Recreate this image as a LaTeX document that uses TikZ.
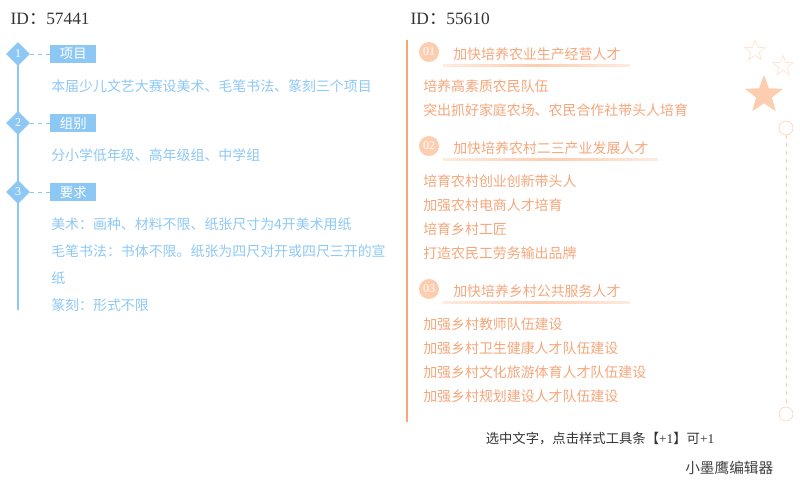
\documentclass[tikz,border=0pt]{standalone}
\usepackage{fontspec}
\setmainfont{Liberation Serif}
\newfontfamily\cjk{Noto Sans CJK SC}
\usetikzlibrary{shapes.geometric}
\definecolor{bl}{HTML}{8DC8F5}
\definecolor{org}{HTML}{F5A67A}
\definecolor{lorg}{HTML}{FDCDB0}
\begin{document}
\begin{tikzpicture}[x=0.75pt,y=-0.75pt,
 btxt/.style={anchor=west,text=bl,font=\cjk\fontsize{10.45}{12}\selectfont,inner sep=0},
 otxt/.style={anchor=west,text=org,font=\cjk\fontsize{10.45}{12}\selectfont,inner sep=0},
 dia/.style={diamond,fill=bl,minimum size=18,inner sep=0,text=white,font=\fontsize{9}{10}\selectfont},
 lbl/.style={fill=bl,text=white,minimum width=34.5pt,minimum height=13.5pt,inner sep=0,font=\cjk\fontsize{10}{12}\selectfont,anchor=west},
 num/.style={circle,fill=lorg,minimum size=15pt,inner sep=0,text=white,font=\fontsize{9}{10}\selectfont},
 ttl/.style={anchor=west,text=org,font=\cjk\fontsize{10.45}{12}\selectfont,inner sep=0}]
\useasboundingbox (0,0) rectangle (800,488);
\node[anchor=west,font=\fontsize{13}{15}\selectfont,text=black!80] (id1) at (6,19) {ID{\cjk ：}57441};
\node[anchor=west,font=\fontsize{13}{15}\selectfont,text=black!80] (id2) at (406,19) {ID{\cjk ：}55610};
% left
\draw[bl,line width=1pt] (18,45) -- (18,310);
\foreach \y/\n/\t in {54/1/项目,123/2/组别,192/3/要求}{
 \node[dia] (d\n) at (18,\y) {\n};
 \node[lbl] (l\n) at (50,\y) {\t};
 \draw[bl,dashed] (d\n.east) -- (l\n.west);
}
\node[btxt] (t1) at (51,86) {本届少儿文艺大赛设美术、毛笔书法、篆刻三个项目};
\node[btxt] (t2) at (51,155) {分小学低年级、高年级组、中学组};
\node[btxt] (t3) at (51,224) {美术：画种、材料不限、纸张尺寸为4开美术用纸};
\node[btxt] (t4) at (51,251) {毛笔书法：书体不限。纸张为四尺对开或四尺三开的宣};
\node[btxt] (t5) at (51,278) {纸};
\node[btxt] (t6) at (51,305) {篆刻：形式不限};
% right
\draw[org,line width=1.5pt] (407,40) -- (407,422);
\foreach \y/\n/\t/\w in {52/01/加快培养农业生产经营人才/630,146/02/加快培养农村二三产业发展人才/658,289/03/加快培养乡村公共服务人才/630}{
 \node[num] (n\n) at (429,\y) {\n};
 \node[ttl] (h\n) at (453,\y+2) {\t};
 \shade[left color=lorg!40,right color=lorg!40,middle color=lorg] (443,\y+13) rectangle (\w,\y+15);
}
\node[otxt] (a1) at (423,86) {培养高素质农民队伍};
\node[otxt] (a2) at (423,110) {突出抓好家庭农场、农民合作社带头人培育};
\node[otxt] (b1) at (423,181) {培育农村创业创新带头人};
\node[otxt] (b2) at (423,205) {加强农村电商人才培育};
\node[otxt] (b3) at (423,229) {培育乡村工匠};
\node[otxt] (b4) at (423,253) {打造农民工劳务输出品牌};
\node[otxt] (c1) at (423,324) {加强乡村教师队伍建设};
\node[otxt] (c2) at (423,348) {加强乡村卫生健康人才队伍建设};
\node[otxt] (c3) at (423,372) {加强乡村文化旅游体育人才队伍建设};
\node[otxt] (c4) at (423,396) {加强乡村规划建设人才队伍建设};
% stars
\node[star,star points=5,star point ratio=2.4,draw=lorg!70,minimum size=16pt,inner sep=0] (s1) at (755,51) {};
\node[star,star points=5,star point ratio=2.4,draw=lorg!70,minimum size=16pt,inner sep=0] (s2) at (783,66) {};
\node[star,star points=5,star point ratio=2.4,fill=lorg,minimum size=30pt,inner sep=0] (s3) at (764,95) {};
\node[circle,draw=lorg,fill=white,minimum size=10.5pt,inner sep=0] (o1) at (786,128) {};
\node[circle,draw=lorg,fill=white,minimum size=10.5pt,inner sep=0] (o2) at (786,414) {};
\draw[lorg,dashed] (o1.south) -- (o2.north);
\node[anchor=center,font=\fontsize{10}{11}\selectfont,text=black!80] (f1) at (600,439) {{\cjk 选中文字，点击样式工具条【}+1{\cjk 】可}+1};
\node[anchor=east,font=\cjk\fontsize{11}{13}\selectfont,text=black!75] (f2) at (778,468) {小墨鹰编辑器};
\end{tikzpicture}
\end{document}
